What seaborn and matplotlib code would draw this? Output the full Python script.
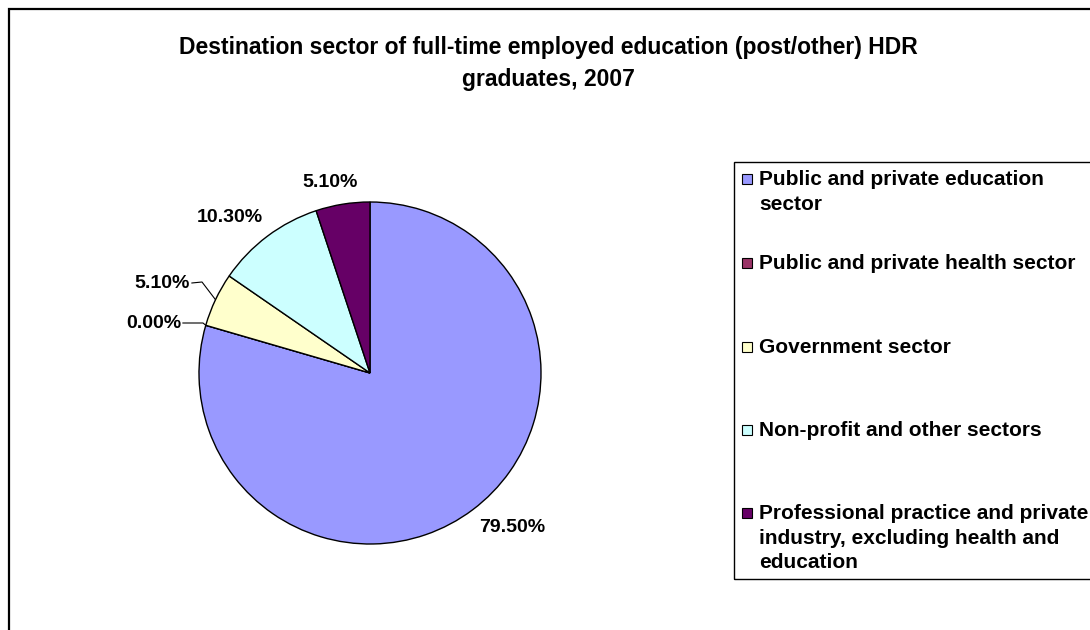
import numpy as np
import matplotlib
matplotlib.use("Agg")
import matplotlib.pyplot as plt
import seaborn as sns
from matplotlib.patches import Rectangle

# data
sectors = ["Public and private education sector",
           "Public and private health sector",
           "Government sector",
           "Non-profit and other sectors",
           "Professional practice and private industry, excluding health and education"]
shares = [79.5, 0.0, 5.1, 10.3, 5.1]
legend_labels = ["Public and private education\nsector",
                 "Public and private health sector",
                 "Government sector",
                 "Non-profit and other sectors",
                 "Professional practice and private\nindustry, excluding health and\neducation"]
colors = ["#9999FF", "#993366", "#FFFFCC", "#CCFFFF", "#660066"]
title = "Destination sector of full-time employed education (post/other) HDR\ngraduates, 2007"

sns.set_theme(style="white")
plt.rcParams['font.family'] = ['Liberation Sans', 'DejaVu Sans']
plt.rcParams['font.weight'] = 'bold'
plt.rcParams['text.color'] = 'black'

W, H = 1090, 630
fig = plt.figure(figsize=(W / 100, H / 100), dpi=100)

# pie axes: centre (370, 373), radius 171 px
cx, cy, r = 370, 373, 171
ax = fig.add_axes([(cx - r) / W, (H - cy - r) / H, 2 * r / W, 2 * r / H])
wedges, _ = ax.pie(shares, colors=colors, startangle=90, counterclock=False,
                   wedgeprops=dict(edgecolor="black", linewidth=1.0))
ax.set_xlim(-1, 1)
ax.set_ylim(-1, 1)
ax.set_aspect("equal")
ax.axis("off")

# label positions in pixel coords (text anchor) and leader bends
lab_pos = [(512, 527), (181, 323), (190, 283), (230, 217), (330, 182)]
lab_ha = ["center", "right", "right", "center", "center"]
bends = [None, (203, 323), (202, 282), None, None]


def to_data(p):
    return ((p[0] - cx) / r, (cy - p[1]) / r)


for w, val, pos, ha, bend in zip(wedges, shares, lab_pos, lab_ha, bends):
    tx, ty = to_data(pos)
    ax.text(tx, ty, f"{val:.2f}%", ha=ha, va="center", fontsize=14,
            fontweight="bold", color="black", clip_on=False)
    if bend is not None:
        mid = np.deg2rad((w.theta1 + w.theta2) / 2)
        ex, ey = np.cos(mid), np.sin(mid)
        bx, by = to_data(bend)
        ax.plot([tx + 0.01, bx, ex], [ty, by, ey], color="black", lw=0.8,
                clip_on=False)

# title
fig.text(548 / W, 1 - 36 / H, title, ha="center", va="top", fontsize=16.5,
         fontweight="bold", linespacing=1.5)

# outer chart frame (extends past right/bottom)
fig.add_artist(Rectangle((9 / W, -0.1), 1.2, 1 - 9 / H + 0.1, transform=fig.transFigure,
                         fill=False, edgecolor="black", lw=1.6))

# legend box
fig.add_artist(Rectangle((734 / W, 1 - 579 / H), 1.0, (579 - 162) / H,
                         transform=fig.transFigure, fill=False,
                         edgecolor="black", lw=1.0))
entry_y = [179, 263, 347, 430, 513]
for lab, col, y in zip(legend_labels, colors, entry_y):
    fig.add_artist(Rectangle((742 / W, 1 - (y + 5) / H), 10 / W, 10 / H,
                             transform=fig.transFigure, facecolor=col,
                             edgecolor="black", lw=0.8))
    fig.text(759 / W, 1 - (y - 9) / H, lab, ha="left", va="top", fontsize=15,
             fontweight="bold", linespacing=1.38)

fig.savefig("out.png", dpi=100, facecolor="white")
